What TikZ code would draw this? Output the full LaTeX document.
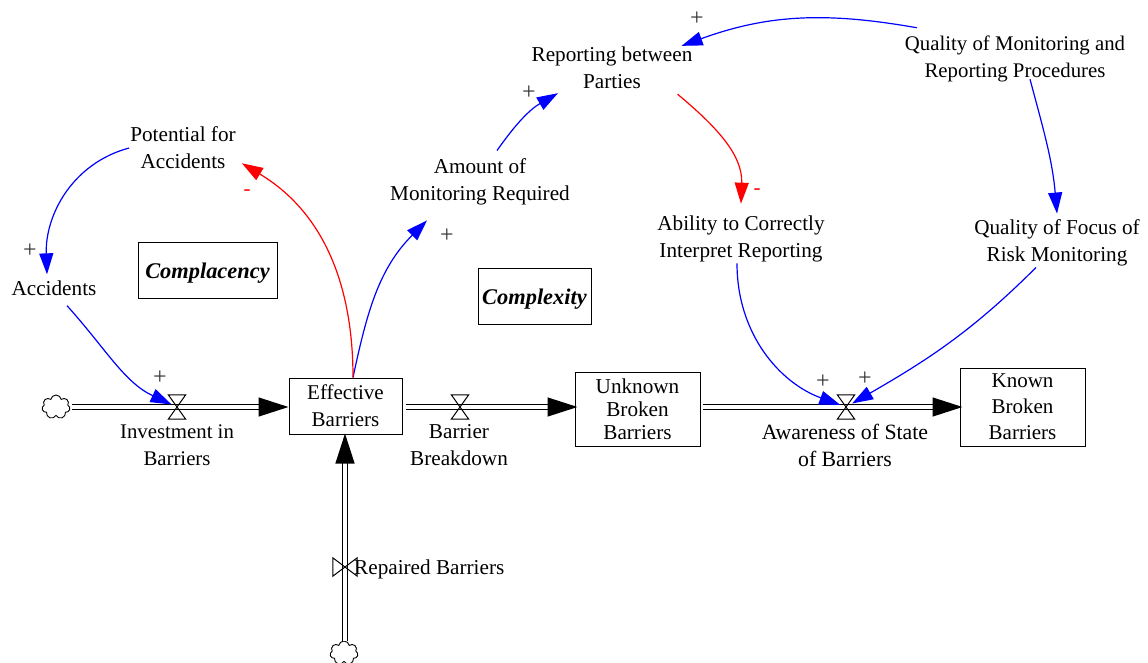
\documentclass[tikz,border=0pt]{standalone}
\usepackage{fontspec}
\setmainfont{Liberation Serif}
\usepackage{xcolor}
\usetikzlibrary{shapes.symbols, arrows.meta, calc}
\definecolor{positive}{RGB}{0, 0, 255}
\definecolor{negative}{RGB}{255, 0, 0}

\begin{document}
\begin{tikzpicture}[
    x=1pt, y=-1pt,
    label/.style={
        font=\fontsize{21.2}{27}\selectfont, align=center, inner sep=1pt
    },
    stock/.style={
        draw, line width=1pt, align=center, inner sep=0pt
    },
    loopname/.style={
        stock, font=\fontsize{22.4}{27}\selectfont\bfseries\itshape,
        text height=22pt, text depth=4.6pt
    },
    valve/.style={minimum width=17pt, minimum height=24pt, inner sep=0pt},
    sidevalve/.style={minimum width=24pt, minimum height=18pt, inner sep=0pt},
    valveline/.style={draw, line width=1pt},
    source/.style={
        draw, cloud, cloud puffs=7, cloud puff arc=160, aspect=1.25, inner sep=0pt,
        minimum width=28pt, minimum height=24pt, line width=0.9pt
    },
    pipe/.style={
        double, double distance=3.6pt, line width=1.25pt,
        -{Triangle[length=30pt, width=19pt]}
    },
    link/.style={
        line width=1.2pt, -{Triangle[length=21pt, width=14pt]}
    },
    plus/.style={
        font=\fontsize{24}{24}\selectfont, text=black!80, inner sep=0pt
    },
    minus/.style={
        font=\fontsize{21}{21}\selectfont, text=negative, inner sep=0pt
    }
]
\useasboundingbox (0, 0) rectangle (1148, 662);

% Stocks
\node[stock, minimum width=113pt, minimum height=56pt, font=\fontsize{21}{27}\selectfont]
    (effective) at (345.5, 406) {Effective\\Barriers};
\node[stock, minimum width=125pt, minimum height=74pt, font=\fontsize{21.2}{23}\selectfont]
    (unknown) at (637.5, 409) {Unknown\\Broken\\Barriers};
\node[stock, minimum width=125pt, minimum height=78pt, font=\fontsize{21}{26}\selectfont]
    (known) at (1022.5, 407) {Known\\Broken\\Barriers};

% Loop names
\node[loopname, minimum width=139pt, minimum height=56pt] (complacency) at (207.5, 270) {Complacency};
\node[loopname, minimum width=113pt, minimum height=56pt] (complexity) at (534.5, 296) {Complexity};

% Variables
\node[label] (potential) at (183, 148) {Potential for\\Accidents};
\node[label] (accidents) at (54, 288) {Accidents};
\node[label] (amount) at (480, 182) {Amount of\\Monitoring Required};
\node[label] (reporting) at (612, 68) {Reporting between\\Parties};
\node[label, font=\fontsize{20.8}{27}\selectfont] (quality) at (1015, 59) {Quality of Monitoring and\\Reporting Procedures};
\node[label] (ability) at (741, 239) {Ability to Correctly\\Interpret Reporting};
\node[label] (focus) at (1057, 243) {Quality of Focus of\\Risk Monitoring};

% Clouds and valves
\node[source] (cloudleft) at (56, 407) {};
\node[source] (cloudbottom) at (344, 653) {};
\node[valve] (investvalve) at (177, 407) {};
\node[valve] (breakdownvalve) at (460, 407) {};
\node[valve] (awarevalve) at (846, 407) {};
\node[sidevalve] (repairvalve) at (345, 567) {};

% Valve labels
\node[label, font=\fontsize{20.8}{27}\selectfont] (investlabel) at (177, 445) {Investment in\\Barriers};
\node[label] (breakdownlabel) at (459, 445) {Barrier\\Breakdown};
\node[label, font=\fontsize{21.8}{27}\selectfont] (awarelabel) at (845, 445) {Awareness of State\\of Barriers};
\node[label, anchor=west] (repairlabel) at (353, 569) {Repaired Barriers};

% Flows
\draw[pipe, shorten <=2pt] (cloudleft.east |- investvalve) -- (effective.west |- investvalve);
\draw[pipe, shorten <=3pt, shorten >=-3pt] (effective.east |- investvalve) -- (unknown.west |- investvalve);
\draw[pipe, shorten <=2pt, shorten >=-3pt] (unknown.east |- awarevalve) -- (known.west |- awarevalve);
\draw[pipe, shorten >=-1pt] (repairvalve |- cloudbottom.north) -- (effective.south -| repairvalve);

\foreach \v in {investvalve, breakdownvalve, awarevalve} {
    \path[valveline] (\v.north west) -- (\v.north east) -- (\v.south west) -- (\v.south east) -- cycle;
}
\path[valveline] (repairvalve.north west) -- (repairvalve.south west)
    -- (repairvalve.north east) -- (repairvalve.south east) -- cycle;

% Blue links
\draw[link, positive] (potential.west) to[out=195, in=92] ([xshift=-7pt, yshift=5pt]accidents.north);
\draw[link, positive, shorten >=6pt] ([xshift=13pt, yshift=-9pt]accidents.south) to[out=-48, in=155] (investvalve.center);
\draw[link, positive] ([xshift=7.5pt]effective.north) to[out=78, in=-135] ([xshift=-53pt, yshift=-14pt]amount.south);
\draw[link, positive] ([xshift=17pt, yshift=7pt]amount.north) to[out=55, in=-150] ([xshift=-54pt, yshift=-3pt]reporting.south);
\draw[link, positive] ([xshift=13pt, yshift=7pt]quality.north west) to[out=170, in=20] ([xshift=-12pt]reporting.north east);
\draw[link, positive] ([xshift=15pt, yshift=4pt]quality.south) to[out=-75, in=95] ([yshift=5pt]focus.north);
\draw[link, positive, shorten >=6pt] ([xshift=-4pt]ability.south) to[out=-90, in=160] (awarevalve.center);
\draw[link, positive, shorten >=7pt] ([xshift=-21pt]focus.south) to[out=-135, in=30] (awarevalve.center);

% Red links
\draw[link, negative] ([xshift=7.5pt]effective.north) to[out=90, in=-31] ([xshift=5pt, yshift=7pt]potential.south east);
\draw[link, negative] ([xshift=-16pt, yshift=-4pt]reporting.south east) to[out=-40, in=88] ([yshift=11pt]ability.north);

% Polarity signs
\node[plus] (plusa) at (30, 251) {+};
\node[plus] (plusb) at (160, 378) {+};
\node[plus] (plusc) at (447, 236) {+};
\node[plus] (plusd) at (529, 93) {+};
\node[plus] (pluse) at (697, 19) {+};
\node[plus] (plusf) at (823, 382) {+};
\node[plus] (plusg) at (865, 379) {+};
\node[minus] (minusa) at (247, 193) {-};
\node[minus] (minusb) at (757, 192) {-};

\end{tikzpicture}
\end{document}
